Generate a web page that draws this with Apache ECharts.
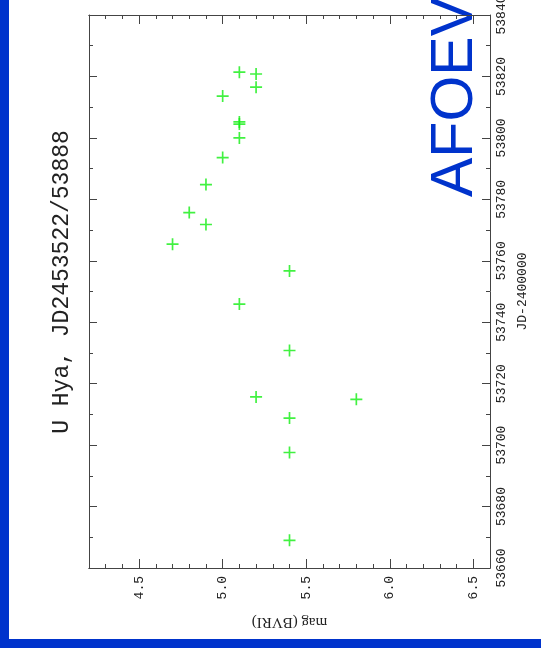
<!DOCTYPE html>
<html>
<head>
<meta charset="utf-8">
<script src="https://cdn.jsdelivr.net/npm/echarts@6/dist/echarts.min.js"></script>
<style>html,body{margin:0;padding:0;background:#fff;}#c{width:541px;height:648px;}</style>
</head>
<body>
<div id="c"></div>
<script>
// Data: magnitude (BVRI) and JD-2400000
const jdValues = [53821.4, 53820.8, 53816.5, 53813.6, 53805.2, 53804.5, 53800.0, 53793.6, 53784.8, 53775.7, 53771.8, 53765.4, 53756.7, 53745.9, 53730.8, 53715.7, 53714.9, 53708.8, 53697.6, 53669.0];
const magValues = [5.1, 5.2, 5.2, 5.0, 5.1, 5.1, 5.1, 5.0, 4.9, 4.8, 4.9, 4.7, 5.4, 5.1, 5.4, 5.2, 5.8, 5.4, 5.4, 5.4];
const magMajorTicks = [4.5, 5.0, 5.5, 6.0, 6.5];
const magMinorTicks = [4.3, 4.4, 4.6, 4.7, 4.8, 4.9, 5.1, 5.2, 5.3, 5.4, 5.6, 5.7, 5.8, 5.9, 6.1, 6.2, 6.3, 6.4];
const titleText = 'U Hya, JD2453522/53888';

const points = jdValues.map((jd, i) => [magValues[i], jd]);
const lineColor = '#444';
const labelFont = 'Liberation Mono';

function magAxis(pos, ticks, len, labels) {
  return {
    type: 'value', position: pos, min: 4.2, max: 6.6,
    axisLine: { show: true, lineStyle: { color: lineColor, width: 1 } },
    axisTick: { show: true, inside: true, length: len, customValues: ticks, lineStyle: { color: lineColor } },
    axisLabel: labels ? { show: true, customValues: magMajorTicks, rotate: 90, margin: 8, color: '#222', fontFamily: labelFont, fontSize: 13, formatter: v => v.toFixed(1) } : { show: false },
    splitLine: { show: false }
  };
}
function jdAxis(pos, labels) {
  return {
    type: 'value', position: pos, min: 53660, max: 53840, interval: 20,
    axisLine: { show: true, lineStyle: { color: lineColor, width: 1 } },
    axisTick: { show: true, inside: true, length: 8, lineStyle: { color: lineColor } },
    minorTick: { show: true, splitNumber: 2, length: 4, lineStyle: { color: lineColor } },
    axisLabel: labels ? { show: true, rotate: 90, margin: 5, color: '#222', fontFamily: labelFont, fontSize: 13, showMaxLabel: true, showMinLabel: true, formatter: v => String(Math.round(v)) } : { show: false },
    splitLine: { show: false },
    minorSplitLine: { show: false }
  };
}

const xAxes = [magAxis('bottom', magMajorTicks, 9, true), magAxis('bottom', magMinorTicks, 4, false), magAxis('top', magMajorTicks, 9, false), magAxis('top', magMinorTicks, 4, false)];
xAxes[0].name = 'mag (BVRI)';
xAxes[0].nameLocation = 'middle';
xAxes[0].nameRotate = 180;
xAxes[0].nameGap = 46;
xAxes[0].nameTextStyle = { color: '#222', fontFamily: 'Liberation Serif', fontSize: 15 };
const yAxes = [jdAxis('right', true), jdAxis('left', false)];
yAxes[0].name = 'JD-2400000';
yAxes[0].nameLocation = 'middle';
yAxes[0].nameRotate = 90;
yAxes[0].nameGap = 24;
yAxes[0].nameTextStyle = { color: '#222', fontFamily: labelFont, fontSize: 13 };

const chart = echarts.init(document.getElementById('c'), null, { renderer: 'canvas' });
chart.setOption({
  animation: false,
  backgroundColor: '#fff',
  grid: { left: 89, right: 51, top: 15, bottom: 80, containLabel: false, outerBoundsMode: 'none' },
  xAxis: xAxes,
  yAxis: yAxes,
  series: [{
    type: 'scatter', xAxisIndex: 0, yAxisIndex: 0,
    data: points,
    symbol: 'path://M4.3,0h1.4v10h-1.4z M0,4.3h10v1.4h-10z',
    symbolSize: 12,
    itemStyle: { color: '#11ee11' },
    emphasis: { disabled: true }
  }],
  graphic: [
    { type: 'rect', shape: { x: 0, y: 0, width: 9, height: 648 }, style: { fill: '#0033cc' }, silent: true },
    { type: 'rect', shape: { x: 0, y: 639, width: 541, height: 9 }, style: { fill: '#0033cc' }, silent: true },
    { type: 'text', x: 62, y: 282, rotation: Math.PI / 2, style: { text: titleText, fill: '#222', font: '23px "Liberation Mono"', align: 'center', verticalAlign: 'middle' }, silent: true },
    { type: 'text', x: 456, y: 197, rotation: Math.PI / 2, style: { text: 'AFOEV', fill: '#0033cc', font: '59px "Liberation Sans"', align: 'left', verticalAlign: 'middle' }, silent: true }
  ]
});
</script>
</body>
</html>
